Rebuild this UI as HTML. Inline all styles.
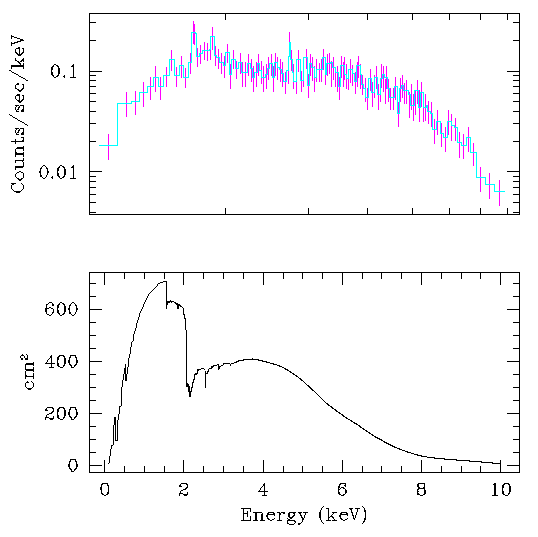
<!DOCTYPE html>
<html><head><meta charset="utf-8"><style>
html,body{margin:0;padding:0;background:#fff;}
svg{display:block;}
</style></head><body>
<svg width="538" height="537" viewBox="0 0 538 537">
<rect width="538" height="537" fill="#fff"/>
<g shape-rendering="crispEdges">
<rect x="89" y="13" width="431" height="1" fill="#000"/><rect x="89" y="214" width="431" height="1" fill="#000"/><rect x="89" y="13" width="1" height="202" fill="#000"/><rect x="519" y="13" width="1" height="202" fill="#000"/><rect x="89" y="71" width="13" height="1" fill="#000"/><rect x="507" y="71" width="13" height="1" fill="#000"/><rect x="89" y="171" width="13" height="1" fill="#000"/><rect x="507" y="171" width="13" height="1" fill="#000"/><rect x="89" y="22" width="7" height="1" fill="#000"/><rect x="513" y="22" width="7" height="1" fill="#000"/><rect x="89" y="40" width="7" height="1" fill="#000"/><rect x="513" y="40" width="7" height="1" fill="#000"/><rect x="89" y="75" width="7" height="1" fill="#000"/><rect x="513" y="75" width="7" height="1" fill="#000"/><rect x="89" y="80" width="7" height="1" fill="#000"/><rect x="513" y="80" width="7" height="1" fill="#000"/><rect x="89" y="86" width="7" height="1" fill="#000"/><rect x="513" y="86" width="7" height="1" fill="#000"/><rect x="89" y="93" width="7" height="1" fill="#000"/><rect x="513" y="93" width="7" height="1" fill="#000"/><rect x="89" y="101" width="7" height="1" fill="#000"/><rect x="513" y="101" width="7" height="1" fill="#000"/><rect x="89" y="111" width="7" height="1" fill="#000"/><rect x="513" y="111" width="7" height="1" fill="#000"/><rect x="89" y="123" width="7" height="1" fill="#000"/><rect x="513" y="123" width="7" height="1" fill="#000"/><rect x="89" y="141" width="7" height="1" fill="#000"/><rect x="513" y="141" width="7" height="1" fill="#000"/><rect x="89" y="176" width="7" height="1" fill="#000"/><rect x="513" y="176" width="7" height="1" fill="#000"/><rect x="89" y="181" width="7" height="1" fill="#000"/><rect x="513" y="181" width="7" height="1" fill="#000"/><rect x="89" y="187" width="7" height="1" fill="#000"/><rect x="513" y="187" width="7" height="1" fill="#000"/><rect x="89" y="194" width="7" height="1" fill="#000"/><rect x="513" y="194" width="7" height="1" fill="#000"/><rect x="89" y="202" width="7" height="1" fill="#000"/><rect x="513" y="202" width="7" height="1" fill="#000"/><rect x="89" y="212" width="7" height="1" fill="#000"/><rect x="513" y="212" width="7" height="1" fill="#000"/><rect x="225" y="208" width="1" height="7" fill="#000"/><rect x="225" y="13" width="1" height="7" fill="#000"/><rect x="308" y="208" width="1" height="7" fill="#000"/><rect x="308" y="13" width="1" height="7" fill="#000"/><rect x="367" y="208" width="1" height="7" fill="#000"/><rect x="367" y="13" width="1" height="7" fill="#000"/><rect x="412" y="208" width="1" height="7" fill="#000"/><rect x="412" y="13" width="1" height="7" fill="#000"/><rect x="449" y="208" width="1" height="7" fill="#000"/><rect x="449" y="13" width="1" height="7" fill="#000"/><rect x="480" y="208" width="1" height="7" fill="#000"/><rect x="480" y="13" width="1" height="7" fill="#000"/><rect x="507" y="208" width="1" height="7" fill="#000"/><rect x="507" y="13" width="1" height="7" fill="#000"/><rect x="89" y="272" width="431" height="1" fill="#000"/><rect x="89" y="472" width="431" height="1" fill="#000"/><rect x="89" y="272" width="1" height="201" fill="#000"/><rect x="519" y="272" width="1" height="201" fill="#000"/><rect x="104" y="460" width="1" height="13" fill="#000"/><rect x="104" y="272" width="1" height="13" fill="#000"/><rect x="124" y="466" width="1" height="7" fill="#000"/><rect x="124" y="272" width="1" height="7" fill="#000"/><rect x="144" y="466" width="1" height="7" fill="#000"/><rect x="144" y="272" width="1" height="7" fill="#000"/><rect x="164" y="466" width="1" height="7" fill="#000"/><rect x="164" y="272" width="1" height="7" fill="#000"/><rect x="183" y="460" width="1" height="13" fill="#000"/><rect x="183" y="272" width="1" height="13" fill="#000"/><rect x="203" y="466" width="1" height="7" fill="#000"/><rect x="203" y="272" width="1" height="7" fill="#000"/><rect x="223" y="466" width="1" height="7" fill="#000"/><rect x="223" y="272" width="1" height="7" fill="#000"/><rect x="243" y="466" width="1" height="7" fill="#000"/><rect x="243" y="272" width="1" height="7" fill="#000"/><rect x="263" y="460" width="1" height="13" fill="#000"/><rect x="263" y="272" width="1" height="13" fill="#000"/><rect x="283" y="466" width="1" height="7" fill="#000"/><rect x="283" y="272" width="1" height="7" fill="#000"/><rect x="302" y="466" width="1" height="7" fill="#000"/><rect x="302" y="272" width="1" height="7" fill="#000"/><rect x="322" y="466" width="1" height="7" fill="#000"/><rect x="322" y="272" width="1" height="7" fill="#000"/><rect x="342" y="460" width="1" height="13" fill="#000"/><rect x="342" y="272" width="1" height="13" fill="#000"/><rect x="362" y="466" width="1" height="7" fill="#000"/><rect x="362" y="272" width="1" height="7" fill="#000"/><rect x="381" y="466" width="1" height="7" fill="#000"/><rect x="381" y="272" width="1" height="7" fill="#000"/><rect x="401" y="466" width="1" height="7" fill="#000"/><rect x="401" y="272" width="1" height="7" fill="#000"/><rect x="421" y="460" width="1" height="13" fill="#000"/><rect x="421" y="272" width="1" height="13" fill="#000"/><rect x="441" y="466" width="1" height="7" fill="#000"/><rect x="441" y="272" width="1" height="7" fill="#000"/><rect x="461" y="466" width="1" height="7" fill="#000"/><rect x="461" y="272" width="1" height="7" fill="#000"/><rect x="480" y="466" width="1" height="7" fill="#000"/><rect x="480" y="272" width="1" height="7" fill="#000"/><rect x="500" y="460" width="1" height="13" fill="#000"/><rect x="500" y="272" width="1" height="13" fill="#000"/><rect x="89" y="465" width="13" height="1" fill="#000"/><rect x="507" y="465" width="13" height="1" fill="#000"/><rect x="89" y="452" width="7" height="1" fill="#000"/><rect x="513" y="452" width="7" height="1" fill="#000"/><rect x="89" y="439" width="7" height="1" fill="#000"/><rect x="513" y="439" width="7" height="1" fill="#000"/><rect x="89" y="426" width="7" height="1" fill="#000"/><rect x="513" y="426" width="7" height="1" fill="#000"/><rect x="89" y="413" width="13" height="1" fill="#000"/><rect x="507" y="413" width="13" height="1" fill="#000"/><rect x="89" y="400" width="7" height="1" fill="#000"/><rect x="513" y="400" width="7" height="1" fill="#000"/><rect x="89" y="387" width="7" height="1" fill="#000"/><rect x="513" y="387" width="7" height="1" fill="#000"/><rect x="89" y="374" width="7" height="1" fill="#000"/><rect x="513" y="374" width="7" height="1" fill="#000"/><rect x="89" y="361" width="13" height="1" fill="#000"/><rect x="507" y="361" width="13" height="1" fill="#000"/><rect x="89" y="348" width="7" height="1" fill="#000"/><rect x="513" y="348" width="7" height="1" fill="#000"/><rect x="89" y="335" width="7" height="1" fill="#000"/><rect x="513" y="335" width="7" height="1" fill="#000"/><rect x="89" y="322" width="7" height="1" fill="#000"/><rect x="513" y="322" width="7" height="1" fill="#000"/><rect x="89" y="309" width="13" height="1" fill="#000"/><rect x="507" y="309" width="13" height="1" fill="#000"/><rect x="89" y="296" width="7" height="1" fill="#000"/><rect x="513" y="296" width="7" height="1" fill="#000"/><rect x="89" y="283" width="7" height="1" fill="#000"/><rect x="513" y="283" width="7" height="1" fill="#000"/>
</g>
<g shape-rendering="crispEdges">
<path d="M108.5 134V160M126.5 92V117M135.5 91V115M143.5 82V107M150.5 77V100M155.5 66V92M160.5 77V100M166.5 67V87M171.5 50V71M176.5 67V87M181.5 56V78M185.5 68V88M190.5 53V74M193.5 21V44M194.5 24V45M197.5 48V67M200.5 45V64M204.5 42V60M207.5 43V61M210.5 42V60M212.5 27V50M215.5 46V66M218.5 49V69M221.5 53V74M224.5 56V78M227.5 44V63M230.5 64V89M233.5 50V69M236.5 61V79M240.5 53V74M242.5 62V87M245.5 62V87M248.5 54V76M251.5 59V82M253.5 66V92M256.5 62V87M258.5 54V76M261.5 61V84M263.5 66V92M266.5 64V89M268.5 57V80M271.5 54V76M273.5 66V92M275.5 53V76M277.5 57V80M280.5 59V82M282.5 62V87M285.5 72V94M288.5 61V84M289.5 32V56M291.5 50V71M293.5 64V89M296.5 72V94M298.5 50V72M301.5 71V92M303.5 62V87M306.5 49V69M308.5 74V98M310.5 54V76M312.5 57V81M314.5 66V92M316.5 59V82M319.5 63V82M321.5 59V82M323.5 49V70M325.5 65V85M327.5 54V76M329.5 53V74M331.5 61V87M333.5 57V80M335.5 67V87M337.5 66V92M339.5 77V100M341.5 56V78M343.5 62V87M344.5 57V80M346.5 64V89M348.5 69V90M350.5 59V83M352.5 65V86M355.5 72V94M357.5 62V87M358.5 56V78M360.5 64V89M362.5 75V95M365.5 78V102M367.5 88V110M370.5 69V91M372.5 82V107M374.5 75V98M376.5 66V89M378.5 84V110M380.5 78V102M381.5 64V88M383.5 66V92M385.5 79V104M386.5 66V89M388.5 79V102M390.5 88V110M393.5 88V110M395.5 77V100M398.5 102V127M400.5 78V102M402.5 75V98M404.5 83V104M406.5 80V104M409.5 92V118M411.5 84V110M413.5 94V121M415.5 91V115M417.5 80V104M419.5 90V122M421.5 82V107M423.5 96V122M425.5 94V121M428.5 101V124M431.5 102V127M434.5 119V144M437.5 110V135M441.5 123V147M445.5 127V152M448.5 110V135M451.5 114V141M455.5 118V141M459.5 132V158M463.5 134V159M468.5 127V152M473.5 143V166M480.5 167V192M489.5 173V199M499.5 180V206" stroke="#f0f" fill="none"/><path d="M99 145.5H117.5V103.5H131.5V101.5H139.5V92.5H147.5V86.5H153.5V77.5H158.5V86.5H163.5V75.5H169.5V59.5H174.5V75.5H179.5V65.5H183.5V77.5H188.5V62.5H191.5V32.5H195.5V33.5H196.5V56.5H199.5V53.5H202.5V50.5H207.5V50.5H209.5V49.5H210.5V36.5H214.5V55.5H216.5V57.5H219.5V62.5H223.5V65.5H225.5V52.5H229.5V74.5H231.5V59.5H235.5V68.5H238.5V62.5H241.5V72.5H247.5V63.5H250.5V68.5H252.5V77.5H254.5V72.5H257.5V63.5H259.5V70.5H261.5V77.5H265.5V74.5H267.5V68.5H269.5V63.5H272.5V77.5H274.5V62.5H277.5V67.5H279.5V69.5H281.5V73.5H283.5V81.5H286.5V70.5H288.5V56.5H289.5V42.5H290.5V59.5H292.5V72.5H293.5V81.5H296.5V59.5H300.5V80.5H303.5V57.5H307.5V85.5H309.5V63.5H311.5V67.5H314.5V77.5H316.5V69.5H322.5V57.5H325.5V74.5H326.5V63.5H330.5V62.5H332.5V67.5H335.5V72.5H338.5V86.5H340.5V65.5H344.5V74.5H346.5V78.5H348.5V69.5H352.5V73.5H354.5V81.5H356.5V65.5H360.5V74.5H361.5V84.5H363.5V88.5H365.5V97.5H368.5V78.5H371.5V92.5H374.5V77.5H377.5V94.5H380.5V78.5H382.5V74.5H384.5V77.5H387.5V88.5H389.5V97.5H394.5V86.5H397.5V113.5H399.5V88.5H401.5V85.5H403.5V90.5H408.5V94.5H410.5V105.5H414.5V90.5H418.5V107.5H420.5V92.5H423.5V107.5H426.5V105.5H427.5V111.5H430.5V113.5H432.5V129.5H436.5V121.5H440.5V133.5H443.5V137.5H447.5V121.5H451.5V125.5H454.5V127.5H457.5V142.5H461.5V145.5H466.5V137.5H470.5V152.5H476.5V177.5H485.5V184.5H494.5V191.5H505" stroke="#0ff" fill="none"/><path d="M231.5 364.0 L236.5 362.0 L239.5 360.5 L247.5 359.5 L252.5 359.0 L258.5 360.0 L266.5 362.0 L277.0 365.0 L282.5 367.3 L287.5 370.0 L293.0 373.5 L298.0 377.0 L303.0 381.2 L308.0 385.7 L314.9 392.0 L326.0 403.0 L335.3 410.0 L346.5 418.0 L357.6 424.8 L366.9 431.3 L375.0 436.8 L379.9 439.1 L384.7 442.0 L394.3 447.0 L401.0 449.5 L403.5 450.5 L406.0 451.5 L409.0 452.5 L412.5 453.5 L415.5 454.5 L419.0 455.5 L424.0 456.5 L430.0 457.5 L438.5 458.5 L450.0 459.5 L463.0 460.5 L475.5 461.5 L487.5 462.5 L497.0 463.5 L500.5 463.5" stroke="#000" fill="none" stroke-width="1.1"/><path fill="#000" d="M108 463h1v1h-1zM109 456h1v7h-1zM110 449h1v7h-1zM111 445h1v4h-1zM112 445h1v1h-1zM113 425h1v20h-1zM114 417h1v8h-1zM115 417h1v24h-1zM116 440h1v1h-1zM117 420h1v21h-1zM118 414h1v6h-1zM119 406h1v8h-1zM120 406h1v1h-1zM121 387h1v19h-1zM122 380h1v7h-1zM123 374h1v6h-1zM124 368h1v6h-1zM125 364h1v17h-1zM126 374h1v7h-1zM127 367h1v7h-1zM128 358h1v9h-1zM129 354h1v4h-1zM130 347h1v7h-1zM131 342h1v5h-1zM132 341h1v1h-1zM133 334h1v7h-1zM134 331h1v3h-1zM135 328h1v3h-1zM136 323h1v5h-1zM137 320h1v3h-1zM138 317h1v3h-1zM139 313h1v4h-1zM140 311h1v2h-1zM141 309h1v2h-1zM142 307h1v2h-1zM143 304h1v3h-1zM144 302h1v2h-1zM145 300h1v2h-1zM146 298h1v2h-1zM147 296h1v2h-1zM148 294h1v2h-1zM149 293h1v1h-1zM150 292h1v1h-1zM151 291h1v1h-1zM152 290h1v1h-1zM153 289h1v1h-1zM154 288h1v1h-1zM155 287h1v1h-1zM156 286h1v1h-1zM157 284h1v2h-1zM158 283h1v1h-1zM159 283h1v1h-1zM160 282h1v1h-1zM161 282h1v1h-1zM162 282h1v1h-1zM163 281h1v1h-1zM164 281h1v1h-1zM165 281h1v1h-1zM166 281h1v28h-1zM167 301h1v4h-1zM168 301h1v2h-1zM169 301h1v2h-1zM170 300h1v2h-1zM171 301h1v2h-1zM172 301h1v1h-1zM173 301h1v1h-1zM174 302h1v1h-1zM175 302h1v2h-1zM176 303h1v2h-1zM177 303h1v6h-1zM178 304h1v5h-1zM179 304h1v2h-1zM180 305h1v2h-1zM181 306h1v1h-1zM182 307h1v1h-1zM183 308h1v7h-1zM184 314h1v5h-1zM185 318h1v12h-1zM186 330h1v57h-1zM187 383h1v4h-1zM188 384h1v8h-1zM189 386h1v11h-1zM190 391h1v6h-1zM191 387h1v5h-1zM192 382h1v6h-1zM193 379h1v4h-1zM194 374h1v6h-1zM195 373h1v2h-1zM196 373h1v2h-1zM197 369h1v5h-1zM198 369h1v2h-1zM199 369h1v1h-1zM200 369h1v1h-1zM201 368h1v1h-1zM202 368h1v1h-1zM203 368h1v1h-1zM204 369h1v1h-1zM205 371h1v17h-1zM206 373h1v1h-1zM207 371h1v3h-1zM208 369h1v3h-1zM209 368h1v1h-1zM210 368h1v1h-1zM211 366h1v3h-1zM212 366h1v2h-1zM213 365h1v2h-1zM214 365h1v1h-1zM215 365h1v1h-1zM216 365h1v1h-1zM217 364h1v1h-1zM218 364h1v6h-1zM219 366h1v3h-1zM220 366h1v1h-1zM221 365h1v1h-1zM222 365h1v1h-1zM223 363h1v2h-1zM224 363h1v1h-1zM225 363h1v1h-1zM226 363h1v1h-1zM227 363h1v1h-1zM228 363h1v1h-1zM229 363h1v1h-1zM230 364h1v2h-1z"/>
</g>
<g fill="#000" stroke="#000" stroke-width="0.12" shape-rendering="crispEdges">
<path stroke="none" d="M54 64h2v1h-2zM53 65h1v1h-1zM56 65h2v1h-2zM52 66h2v1h-2zM57 66h2v1h-2zM51 67h2v1h-2zM58 67h1v1h-1zM51 68h2v1h-2zM58 68h2v1h-2zM51 69h2v1h-2zM58 69h2v1h-2zM51 70h1v1h-1zM58 70h2v1h-2zM51 71h1v1h-1zM58 71h2v1h-2zM51 72h2v1h-2zM58 72h2v1h-2zM51 73h2v1h-2zM58 73h2v1h-2zM51 74h2v1h-2zM58 74h1v1h-1zM52 75h2v1h-2zM57 75h2v1h-2zM53 76h1v1h-1zM56 76h2v1h-2zM54 77h2v1h-2zM64 75h1v1h-1zM63 76h2v1h-2zM64 77h1v1h-1zM73 64h1v1h-1zM72 65h2v1h-2zM71 66h3v1h-3zM73 67h1v1h-1zM73 68h1v1h-1zM73 69h1v1h-1zM73 70h1v1h-1zM73 71h1v1h-1zM73 72h1v1h-1zM73 73h1v1h-1zM73 74h1v1h-1zM73 75h1v1h-1zM73 76h1v1h-1zM70 77h6v1h-6zM43 165h2v1h-2zM42 166h1v1h-1zM45 166h1v1h-1zM41 167h1v1h-1zM46 167h1v1h-1zM40 168h2v1h-2zM46 168h2v1h-2zM40 169h1v1h-1zM47 169h1v1h-1zM40 170h1v1h-1zM47 170h1v1h-1zM39 171h2v1h-2zM47 171h2v1h-2zM39 172h2v1h-2zM47 172h2v1h-2zM40 173h1v1h-1zM47 173h1v1h-1zM40 174h1v1h-1zM47 174h1v1h-1zM40 175h2v1h-2zM46 175h1v1h-1zM40 176h2v1h-2zM46 176h1v1h-1zM42 177h1v1h-1zM45 177h1v1h-1zM43 178h2v1h-2zM52 176h1v1h-1zM51 177h2v1h-2zM52 178h1v1h-1zM60 165h2v1h-2zM59 166h1v1h-1zM62 166h2v1h-2zM58 167h2v1h-2zM63 167h2v1h-2zM57 168h2v1h-2zM64 168h1v1h-1zM57 169h2v1h-2zM64 169h2v1h-2zM57 170h2v1h-2zM64 170h2v1h-2zM57 171h1v1h-1zM64 171h2v1h-2zM57 172h1v1h-1zM64 172h2v1h-2zM57 173h2v1h-2zM64 173h2v1h-2zM57 174h2v1h-2zM64 174h2v1h-2zM57 175h2v1h-2zM64 175h1v1h-1zM58 176h2v1h-2zM63 176h2v1h-2zM59 177h1v1h-1zM62 177h2v1h-2zM60 178h2v1h-2zM73 165h1v1h-1zM72 166h2v1h-2zM71 167h3v1h-3zM73 168h1v1h-1zM73 169h1v1h-1zM73 170h1v1h-1zM73 171h1v1h-1zM73 172h1v1h-1zM73 173h1v1h-1zM73 174h1v1h-1zM73 175h1v1h-1zM73 176h1v1h-1zM73 177h1v1h-1zM70 178h6v1h-6zM49 302h3v1h-3zM48 303h1v1h-1zM52 303h1v1h-1zM46 304h2v1h-2zM52 304h2v1h-2zM46 305h1v1h-1zM52 305h2v1h-2zM46 306h1v1h-1zM46 307h1v1h-1zM49 307h2v1h-2zM45 308h4v1h-4zM51 308h2v1h-2zM45 309h2v1h-2zM53 309h1v1h-1zM45 310h2v1h-2zM53 310h1v1h-1zM45 311h2v1h-2zM53 311h1v1h-1zM46 312h1v1h-1zM52 312h2v1h-2zM46 313h1v1h-1zM52 313h1v1h-1zM47 314h2v1h-2zM51 314h1v1h-1zM49 315h2v1h-2zM60 302h2v1h-2zM59 303h1v1h-1zM62 303h2v1h-2zM58 304h2v1h-2zM63 304h2v1h-2zM57 305h2v1h-2zM64 305h1v1h-1zM57 306h2v1h-2zM64 306h2v1h-2zM57 307h2v1h-2zM64 307h2v1h-2zM57 308h1v1h-1zM64 308h2v1h-2zM57 309h1v1h-1zM64 309h2v1h-2zM57 310h2v1h-2zM64 310h2v1h-2zM57 311h2v1h-2zM64 311h2v1h-2zM57 312h2v1h-2zM64 312h1v1h-1zM58 313h2v1h-2zM63 313h2v1h-2zM59 314h1v1h-1zM62 314h2v1h-2zM60 315h2v1h-2zM72 302h2v1h-2zM71 303h1v1h-1zM74 303h1v1h-1zM70 304h1v1h-1zM75 304h1v1h-1zM69 305h2v1h-2zM75 305h2v1h-2zM69 306h1v1h-1zM76 306h1v1h-1zM69 307h1v1h-1zM76 307h1v1h-1zM68 308h2v1h-2zM76 308h2v1h-2zM68 309h2v1h-2zM76 309h2v1h-2zM69 310h1v1h-1zM76 310h1v1h-1zM69 311h1v1h-1zM76 311h1v1h-1zM69 312h2v1h-2zM75 312h1v1h-1zM69 313h2v1h-2zM75 313h1v1h-1zM71 314h1v1h-1zM74 314h1v1h-1zM72 315h2v1h-2zM51 355h1v1h-1zM50 356h2v1h-2zM50 357h2v1h-2zM49 358h1v1h-1zM51 358h1v1h-1zM48 359h1v1h-1zM51 359h1v1h-1zM47 360h1v1h-1zM51 360h1v1h-1zM47 361h1v1h-1zM51 361h1v1h-1zM46 362h1v1h-1zM51 362h1v1h-1zM45 363h10v1h-10zM51 364h1v1h-1zM51 365h1v1h-1zM51 366h1v1h-1zM49 367h5v1h-5zM59 355h5v1h-5zM58 356h2v1h-2zM63 356h2v1h-2zM57 357h2v1h-2zM64 357h1v1h-1zM57 358h2v1h-2zM64 358h2v1h-2zM57 359h2v1h-2zM64 359h2v1h-2zM57 360h1v1h-1zM64 360h2v1h-2zM57 361h1v1h-1zM64 361h2v1h-2zM57 362h1v1h-1zM64 362h2v1h-2zM57 363h2v1h-2zM64 363h2v1h-2zM57 364h2v1h-2zM64 364h1v1h-1zM57 365h2v1h-2zM63 365h2v1h-2zM58 366h2v1h-2zM63 366h1v1h-1zM60 367h3v1h-3zM70 355h6v1h-6zM70 356h1v1h-1zM75 356h1v1h-1zM69 357h2v1h-2zM75 357h2v1h-2zM69 358h1v1h-1zM76 358h1v1h-1zM69 359h1v1h-1zM76 359h1v1h-1zM68 360h2v1h-2zM76 360h2v1h-2zM68 361h2v1h-2zM76 361h2v1h-2zM68 362h2v1h-2zM76 362h2v1h-2zM69 363h1v1h-1zM76 363h1v1h-1zM69 364h2v1h-2zM75 364h2v1h-2zM70 365h2v1h-2zM74 365h2v1h-2zM71 366h1v1h-1zM74 366h1v1h-1zM71 367h3v1h-3zM47 407h6v1h-6zM46 408h1v1h-1zM52 408h2v1h-2zM45 409h2v1h-2zM53 409h1v1h-1zM45 410h3v1h-3zM53 410h1v1h-1zM52 411h2v1h-2zM51 412h2v1h-2zM49 413h3v1h-3zM47 414h2v1h-2zM46 415h1v1h-1zM46 416h1v1h-1zM53 416h1v1h-1zM45 417h4v1h-4zM53 417h1v1h-1zM45 418h1v1h-1zM49 418h5v1h-5zM45 419h1v1h-1zM50 419h3v1h-3zM59 407h5v1h-5zM58 408h2v1h-2zM63 408h2v1h-2zM57 409h2v1h-2zM64 409h1v1h-1zM57 410h2v1h-2zM64 410h2v1h-2zM57 411h2v1h-2zM64 411h2v1h-2zM57 412h1v1h-1zM64 412h2v1h-2zM57 413h1v1h-1zM64 413h2v1h-2zM57 414h1v1h-1zM64 414h2v1h-2zM57 415h2v1h-2zM64 415h2v1h-2zM57 416h2v1h-2zM64 416h1v1h-1zM57 417h2v1h-2zM63 417h2v1h-2zM58 418h2v1h-2zM63 418h1v1h-1zM60 419h3v1h-3zM70 407h6v1h-6zM70 408h1v1h-1zM75 408h1v1h-1zM69 409h2v1h-2zM75 409h2v1h-2zM69 410h1v1h-1zM76 410h1v1h-1zM69 411h1v1h-1zM76 411h1v1h-1zM68 412h2v1h-2zM76 412h2v1h-2zM68 413h2v1h-2zM76 413h2v1h-2zM68 414h2v1h-2zM76 414h2v1h-2zM69 415h1v1h-1zM76 415h1v1h-1zM69 416h2v1h-2zM75 416h2v1h-2zM70 417h2v1h-2zM74 417h2v1h-2zM71 418h1v1h-1zM74 418h1v1h-1zM71 419h3v1h-3zM70 459h6v1h-6zM70 460h1v1h-1zM75 460h1v1h-1zM69 461h2v1h-2zM75 461h2v1h-2zM69 462h1v1h-1zM76 462h1v1h-1zM69 463h1v1h-1zM76 463h1v1h-1zM68 464h2v1h-2zM76 464h2v1h-2zM68 465h2v1h-2zM76 465h2v1h-2zM68 466h2v1h-2zM76 466h2v1h-2zM69 467h1v1h-1zM76 467h1v1h-1zM69 468h2v1h-2zM75 468h2v1h-2zM70 469h2v1h-2zM74 469h2v1h-2zM71 470h1v1h-1zM74 470h1v1h-1zM71 471h3v1h-3zM102 483h6v1h-6zM101 484h2v1h-2zM107 484h1v1h-1zM101 485h1v1h-1zM107 485h2v1h-2zM101 486h1v1h-1zM108 486h1v1h-1zM100 487h2v1h-2zM108 487h1v1h-1zM100 488h2v1h-2zM108 488h1v1h-1zM100 489h2v1h-2zM108 489h1v1h-1zM101 490h1v1h-1zM108 490h1v1h-1zM101 491h1v1h-1zM108 491h1v1h-1zM101 492h1v1h-1zM107 492h2v1h-2zM101 493h2v1h-2zM107 493h2v1h-2zM102 494h2v1h-2zM106 494h2v1h-2zM104 495h2v1h-2zM181 483h6v1h-6zM180 484h1v1h-1zM186 484h2v1h-2zM179 485h2v1h-2zM187 485h1v1h-1zM179 486h3v1h-3zM187 486h1v1h-1zM186 487h2v1h-2zM185 488h2v1h-2zM183 489h3v1h-3zM181 490h2v1h-2zM180 491h1v1h-1zM180 492h1v1h-1zM187 492h1v1h-1zM179 493h4v1h-4zM187 493h1v1h-1zM179 494h1v1h-1zM183 494h5v1h-5zM179 495h1v1h-1zM184 495h3v1h-3zM264 483h1v1h-1zM263 484h2v1h-2zM263 485h2v1h-2zM262 486h1v1h-1zM264 486h1v1h-1zM261 487h1v1h-1zM264 487h1v1h-1zM260 488h1v1h-1zM264 488h1v1h-1zM260 489h1v1h-1zM264 489h1v1h-1zM259 490h1v1h-1zM264 490h1v1h-1zM258 491h10v1h-10zM264 492h1v1h-1zM264 493h1v1h-1zM264 494h1v1h-1zM262 495h5v1h-5zM340 483h6v1h-6zM339 484h2v1h-2zM345 484h1v1h-1zM339 485h1v1h-1zM344 485h2v1h-2zM338 486h2v1h-2zM345 486h1v1h-1zM338 487h2v1h-2zM341 487h3v1h-3zM338 488h1v1h-1zM340 488h1v1h-1zM343 488h2v1h-2zM338 489h2v1h-2zM345 489h1v1h-1zM338 490h1v1h-1zM345 490h2v1h-2zM338 491h1v1h-1zM345 491h2v1h-2zM338 492h2v1h-2zM345 492h2v1h-2zM338 493h2v1h-2zM345 493h1v1h-1zM339 494h2v1h-2zM343 494h2v1h-2zM341 495h3v1h-3zM418 483h7v1h-7zM417 484h2v1h-2zM424 484h1v1h-1zM417 485h2v1h-2zM424 485h1v1h-1zM417 486h2v1h-2zM424 486h1v1h-1zM418 487h2v1h-2zM423 487h2v1h-2zM418 488h7v1h-7zM417 489h2v1h-2zM424 489h1v1h-1zM417 490h1v1h-1zM424 490h2v1h-2zM417 491h2v1h-2zM424 491h2v1h-2zM417 492h1v1h-1zM424 492h2v1h-2zM417 493h2v1h-2zM424 493h2v1h-2zM417 494h3v1h-3zM423 494h2v1h-2zM420 495h3v1h-3zM494 483h2v1h-2zM493 484h3v1h-3zM494 485h2v1h-2zM494 486h2v1h-2zM494 487h2v1h-2zM494 488h2v1h-2zM494 489h2v1h-2zM494 490h2v1h-2zM494 491h2v1h-2zM494 492h2v1h-2zM494 493h2v1h-2zM494 494h2v1h-2zM492 495h6v1h-6zM504 483h5v1h-5zM503 484h2v1h-2zM508 484h2v1h-2zM502 485h2v1h-2zM509 485h1v1h-1zM502 486h2v1h-2zM509 486h2v1h-2zM502 487h2v1h-2zM509 487h2v1h-2zM502 488h1v1h-1zM509 488h2v1h-2zM502 489h1v1h-1zM509 489h2v1h-2zM502 490h1v1h-1zM509 490h2v1h-2zM502 491h2v1h-2zM509 491h2v1h-2zM502 492h2v1h-2zM509 492h1v1h-1zM502 493h2v1h-2zM508 493h2v1h-2zM503 494h2v1h-2zM508 494h1v1h-1zM505 495h3v1h-3zM241 508h10v1h-10zM243 509h1v1h-1zM250 509h1v1h-1zM243 510h1v1h-1zM250 510h1v1h-1zM243 511h1v1h-1zM247 511h1v1h-1zM250 511h1v1h-1zM243 512h1v1h-1zM247 512h1v1h-1zM243 513h5v1h-5zM243 514h1v1h-1zM247 514h1v1h-1zM243 515h1v1h-1zM247 515h1v1h-1zM243 516h1v1h-1zM247 516h1v1h-1zM250 516h1v1h-1zM243 517h1v1h-1zM250 517h1v1h-1zM243 518h1v1h-1zM250 518h1v1h-1zM243 519h1v1h-1zM250 519h1v1h-1zM241 520h10v1h-10zM253 512h9v1h-9zM255 513h2v1h-2zM262 513h1v1h-1zM255 514h2v1h-2zM261 514h2v1h-2zM255 515h2v1h-2zM261 515h2v1h-2zM255 516h2v1h-2zM261 516h2v1h-2zM255 517h2v1h-2zM261 517h2v1h-2zM255 518h2v1h-2zM261 518h2v1h-2zM255 519h2v1h-2zM261 519h2v1h-2zM253 520h5v1h-5zM260 520h5v1h-5zM268 512h6v1h-6zM267 513h2v1h-2zM273 513h2v1h-2zM267 514h8v1h-8zM266 515h2v1h-2zM274 515h1v1h-1zM266 516h2v1h-2zM267 517h1v1h-1zM267 518h2v1h-2zM274 518h1v1h-1zM268 519h2v1h-2zM272 519h2v1h-2zM270 520h2v1h-2zM277 512h3v1h-3zM281 512h4v1h-4zM279 513h2v1h-2zM283 513h2v1h-2zM279 514h2v1h-2zM279 515h1v1h-1zM279 516h1v1h-1zM279 517h1v1h-1zM279 518h1v1h-1zM279 519h1v1h-1zM277 520h5v1h-5zM289 512h7v1h-7zM288 513h2v1h-2zM293 513h2v1h-2zM288 514h2v1h-2zM294 514h1v1h-1zM288 515h2v1h-2zM293 515h2v1h-2zM288 516h2v1h-2zM292 516h2v1h-2zM289 517h4v1h-4zM287 518h1v1h-1zM290 518h2v1h-2zM288 519h2v1h-2zM287 520h8v1h-8zM287 521h1v1h-1zM294 521h2v1h-2zM287 522h1v1h-1zM295 522h1v1h-1zM287 523h2v1h-2zM294 523h1v1h-1zM289 524h5v1h-5zM298 512h4v1h-4zM303 512h5v1h-5zM299 513h2v1h-2zM305 513h1v1h-1zM300 514h1v1h-1zM305 514h1v1h-1zM300 515h2v1h-2zM304 515h1v1h-1zM301 516h1v1h-1zM304 516h1v1h-1zM301 517h2v1h-2zM304 517h1v1h-1zM302 518h2v1h-2zM302 519h2v1h-2zM302 520h1v1h-1zM302 521h1v1h-1zM301 522h1v1h-1zM298 523h3v1h-3zM298 524h2v1h-2zM323 506h1v1h-1zM322 507h1v1h-1zM321 508h1v1h-1zM321 509h1v1h-1zM320 510h1v1h-1zM320 511h1v1h-1zM319 512h2v1h-2zM319 513h2v1h-2zM319 514h2v1h-2zM319 515h2v1h-2zM319 516h2v1h-2zM319 517h2v1h-2zM320 518h1v1h-1zM320 519h1v1h-1zM321 520h1v1h-1zM321 521h1v1h-1zM322 522h1v1h-1zM323 523h1v1h-1zM326 508h3v1h-3zM328 509h1v1h-1zM328 510h1v1h-1zM328 511h1v1h-1zM328 512h1v1h-1zM332 512h5v1h-5zM328 513h1v1h-1zM333 513h1v1h-1zM328 514h1v1h-1zM332 514h1v1h-1zM328 515h1v1h-1zM331 515h1v1h-1zM328 516h1v1h-1zM330 516h3v1h-3zM328 517h2v1h-2zM332 517h2v1h-2zM328 518h1v1h-1zM333 518h1v1h-1zM328 519h1v1h-1zM334 519h1v1h-1zM326 520h5v1h-5zM332 520h5v1h-5zM341 512h6v1h-6zM340 513h2v1h-2zM346 513h2v1h-2zM340 514h8v1h-8zM339 515h2v1h-2zM347 515h1v1h-1zM339 516h2v1h-2zM340 517h1v1h-1zM340 518h2v1h-2zM347 518h1v1h-1zM341 519h2v1h-2zM345 519h2v1h-2zM343 520h2v1h-2zM349 508h4v1h-4zM355 508h5v1h-5zM350 509h2v1h-2zM357 509h1v1h-1zM351 510h1v1h-1zM357 510h1v1h-1zM351 511h1v1h-1zM357 511h1v1h-1zM351 512h2v1h-2zM356 512h1v1h-1zM352 513h1v1h-1zM356 513h1v1h-1zM352 514h1v1h-1zM356 514h1v1h-1zM352 515h2v1h-2zM355 515h1v1h-1zM353 516h1v1h-1zM355 516h1v1h-1zM353 517h1v1h-1zM355 517h1v1h-1zM353 518h2v1h-2zM354 519h1v1h-1zM362 506h1v1h-1zM363 507h1v1h-1zM364 508h1v1h-1zM364 509h1v1h-1zM364 510h2v1h-2zM364 511h2v1h-2zM365 512h1v1h-1zM365 513h1v1h-1zM365 514h1v1h-1zM365 515h1v1h-1zM365 516h1v1h-1zM365 517h1v1h-1zM364 518h2v1h-2zM364 519h2v1h-2zM364 520h1v1h-1zM363 521h2v1h-2zM363 522h1v1h-1zM362 523h1v1h-1zM11 183h5v1h-5zM21 183h1v1h-1zM12 184h2v1h-2zM22 184h1v1h-1zM11 185h1v1h-1zM23 185h1v1h-1zM11 186h1v1h-1zM23 186h1v1h-1zM11 187h1v1h-1zM23 187h1v1h-1zM11 188h1v1h-1zM23 188h1v1h-1zM12 189h1v1h-1zM22 189h1v1h-1zM13 190h1v1h-1zM21 190h1v1h-1zM14 191h7v1h-7zM16 192h4v1h-4zM19 171h2v1h-2zM17 172h2v1h-2zM21 172h2v1h-2zM16 173h1v1h-1zM23 173h1v1h-1zM15 174h1v1h-1zM23 174h1v1h-1zM15 175h1v1h-1zM23 175h1v1h-1zM15 176h1v1h-1zM23 176h1v1h-1zM16 177h1v1h-1zM23 177h1v1h-1zM17 178h2v1h-2zM21 178h2v1h-2zM18 179h4v1h-4zM19 180h2v1h-2zM23 158h1v1h-1zM23 159h1v1h-1zM15 160h9v1h-9zM15 161h1v1h-1zM22 161h1v1h-1zM15 162h1v1h-1zM23 162h1v1h-1zM23 163h1v1h-1zM23 164h1v1h-1zM23 165h1v1h-1zM15 166h9v1h-9zM15 167h8v1h-8zM15 168h1v1h-1zM15 169h1v1h-1zM23 146h1v1h-1zM17 147h7v1h-7zM16 148h8v1h-8zM15 149h1v1h-1zM23 149h1v1h-1zM15 150h1v1h-1zM23 150h1v1h-1zM15 151h1v1h-1zM15 152h2v1h-2zM23 152h1v1h-1zM15 153h9v1h-9zM15 154h9v1h-9zM15 155h1v1h-1zM23 155h1v1h-1zM15 156h1v1h-1zM23 156h1v1h-1zM21 137h3v1h-3zM23 138h1v1h-1zM15 139h1v1h-1zM23 139h1v1h-1zM15 140h1v1h-1zM22 140h2v1h-2zM11 141h13v1h-13zM15 142h1v1h-1zM15 143h1v1h-1zM15 128h4v1h-4zM20 128h4v1h-4zM16 129h1v1h-1zM19 129h1v1h-1zM23 129h1v1h-1zM15 130h1v1h-1zM18 130h2v1h-2zM23 130h1v1h-1zM15 131h1v1h-1zM18 131h1v1h-1zM23 131h1v1h-1zM15 132h1v1h-1zM17 132h2v1h-2zM22 132h2v1h-2zM16 133h1v1h-1zM21 133h3v1h-3zM16 134h3v1h-3zM21 134h3v1h-3zM9 114h1v1h-1zM10 115h2v1h-2zM12 116h1v1h-1zM13 117h2v1h-2zM15 118h2v1h-2zM17 119h1v1h-1zM18 120h2v1h-2zM20 121h2v1h-2zM22 122h2v1h-2zM24 123h1v1h-1zM25 124h2v1h-2zM27 125h1v1h-1zM17 83h2v1h-2zM16 84h3v1h-3zM22 84h2v1h-2zM15 85h1v1h-1zM23 85h1v1h-1zM15 86h1v1h-1zM23 86h1v1h-1zM15 87h1v1h-1zM23 87h1v1h-1zM15 88h2v1h-2zM22 88h2v1h-2zM17 89h2v1h-2zM21 89h2v1h-2zM18 90h4v1h-4zM19 91h2v1h-2zM17 94h3v1h-3zM16 95h4v1h-4zM22 95h2v1h-2zM15 96h1v1h-1zM19 96h1v1h-1zM23 96h1v1h-1zM15 97h1v1h-1zM19 97h1v1h-1zM23 97h1v1h-1zM15 98h1v1h-1zM19 98h1v1h-1zM23 98h1v1h-1zM16 99h1v1h-1zM19 99h1v1h-1zM22 99h2v1h-2zM17 100h3v1h-3zM21 100h2v1h-2zM18 101h4v1h-4zM19 102h2v1h-2zM15 58h1v1h-1zM23 58h1v1h-1zM15 59h1v1h-1zM22 59h2v1h-2zM15 60h2v1h-2zM21 60h3v1h-3zM17 61h2v1h-2zM20 61h2v1h-2zM23 61h1v1h-1zM18 62h2v1h-2zM19 63h2v1h-2zM23 63h1v1h-1zM20 64h1v1h-1zM23 64h1v1h-1zM11 65h13v1h-13zM11 66h13v1h-13zM11 67h1v1h-1zM23 67h1v1h-1zM11 68h1v1h-1zM23 68h1v1h-1zM18 47h2v1h-2zM16 48h4v1h-4zM22 48h2v1h-2zM15 49h1v1h-1zM19 49h1v1h-1zM23 49h1v1h-1zM15 50h1v1h-1zM19 50h1v1h-1zM23 50h1v1h-1zM15 51h1v1h-1zM19 51h1v1h-1zM23 51h1v1h-1zM15 52h2v1h-2zM19 52h1v1h-1zM22 52h2v1h-2zM16 53h2v1h-2zM19 53h1v1h-1zM21 53h2v1h-2zM17 54h5v1h-5zM18 55h3v1h-3zM11 35h1v1h-1zM11 36h3v1h-3zM11 37h1v1h-1zM14 37h3v1h-3zM11 38h1v1h-1zM17 38h3v1h-3zM20 39h3v1h-3zM20 40h4v1h-4zM17 41h4v1h-4zM11 42h1v1h-1zM14 42h4v1h-4zM11 43h4v1h-4zM11 44h1v1h-1zM11 45h1v1h-1zM22 354h1v1h-1zM26 354h1v1h-1zM21 355h3v1h-3zM27 355h1v1h-1zM20 356h1v1h-1zM24 356h1v1h-1zM27 356h1v1h-1zM20 357h1v1h-1zM24 357h1v1h-1zM27 357h1v1h-1zM21 358h2v1h-2zM25 358h3v1h-3zM21 359h2v1h-2zM25 359h3v1h-3zM33 362h1v1h-1zM26 363h8v1h-8zM25 364h9v1h-9zM25 365h1v1h-1zM33 365h1v1h-1zM25 366h1v1h-1zM25 367h1v1h-1zM33 367h1v1h-1zM25 368h1v1h-1zM33 368h1v1h-1zM25 369h9v1h-9zM26 370h8v1h-8zM25 371h1v1h-1zM33 371h1v1h-1zM25 372h1v1h-1zM25 373h1v1h-1zM33 373h1v1h-1zM25 374h1v1h-1zM33 374h1v1h-1zM25 375h2v1h-2zM33 375h1v1h-1zM25 376h9v1h-9zM25 377h1v1h-1zM33 377h1v1h-1zM25 378h1v1h-1zM33 378h1v1h-1zM27 381h1v1h-1zM31 381h1v1h-1zM26 382h3v1h-3zM32 382h1v1h-1zM25 383h1v1h-1zM33 383h1v1h-1zM25 384h1v1h-1zM33 384h1v1h-1zM25 385h1v1h-1zM33 385h1v1h-1zM25 386h1v1h-1zM33 386h1v1h-1zM26 387h1v1h-1zM32 387h1v1h-1zM27 388h5v1h-5zM28 389h3v1h-3zM15 105h4v1h-4zM20 105h4v1h-4zM16 106h1v1h-1zM19 106h1v1h-1zM23 106h1v1h-1zM15 107h1v1h-1zM18 107h2v1h-2zM23 107h1v1h-1zM15 108h1v1h-1zM18 108h1v1h-1zM23 108h1v1h-1zM15 109h1v1h-1zM17 109h2v1h-2zM22 109h2v1h-2zM16 110h1v1h-1zM21 110h3v1h-3zM16 111h3v1h-3zM21 111h3v1h-3zM9 70h2v1h-2zM11 71h1v1h-1zM12 72h2v1h-2zM14 73h2v1h-2zM16 74h2v1h-2zM18 75h1v1h-1zM19 76h2v1h-2zM21 77h2v1h-2zM23 78h2v1h-2zM25 79h1v1h-1zM26 80h2v1h-2z"/>
</g>
</svg>
</body></html>
